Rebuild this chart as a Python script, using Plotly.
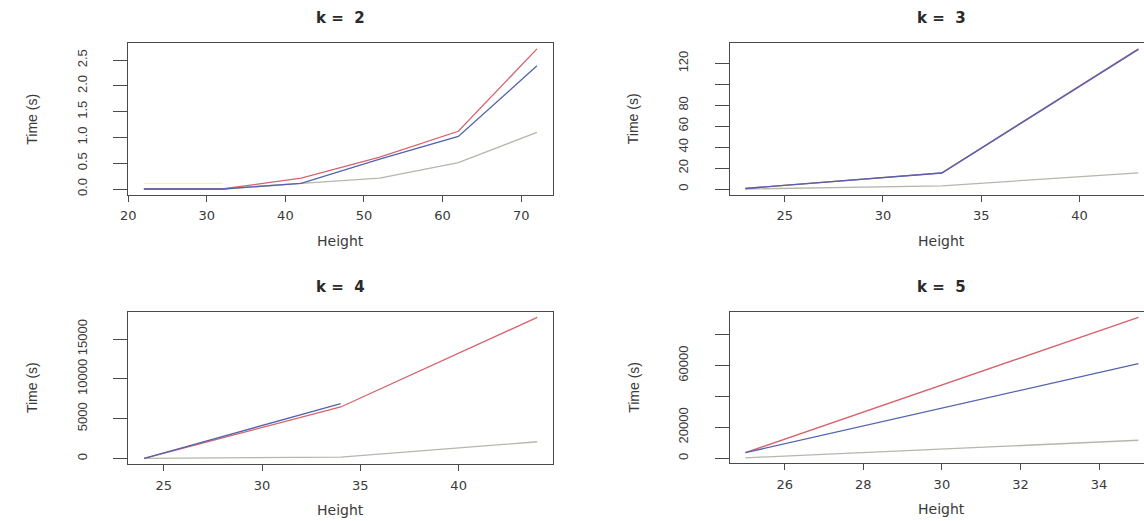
import plotly.graph_objects as go

W, H = 1144, 521

# ---------------- data ----------------
k2_height = [22, 32, 42, 52, 62, 72]
k2_red = [0, 0, 0.21, 0.62, 1.12, 2.72]
k2_blue = [0, 0, 0.11, 0.58, 1.02, 2.39]
k2_grey = [0, 0, 0.11, 0.21, 0.51, 1.10]
k2_yellow_height = [22, 32]
k2_yellow = [0.11, 0.11]

k3_height = [23, 33, 43]
k3_red = [0.5, 15.5, 134]
k3_blue = [0.5, 15.3, 133.5]
k3_grey = [0, 3, 15.5]

k4_height = [24, 34, 44]
k4_red = [0, 6470, 17735]
k4_blue_height = [24, 34]
k4_blue = [0, 6900]
k4_grey = [0, 170, 2100]

k5_height = [25, 35]
k5_red = [3600, 91200]
k5_blue = [3600, 61250]
k5_grey = [300, 11640]

titles = ["k = \u00a02", "k = \u00a03", "k = \u00a04", "k = \u00a05"]

x_ticks_k2 = [20, 30, 40, 50, 60, 70]
x_ticks_k3 = [25, 30, 35, 40]
x_ticks_k4 = [25, 30, 35, 40]
x_ticks_k5 = [26, 28, 30, 32, 34]

y_ticks_k2 = [0, 0.5, 1.0, 1.5, 2.0, 2.5]
y_text_k2 = ["0.0", "0.5", "1.0", "1.5", "2.0", "2.5"]
y_ticks_k3 = [0, 20, 40, 60, 80, 100, 120]
y_text_k3 = ["0", "20", "40", "60", "80", "", "120"]
y_ticks_k4 = [0, 5000, 10000, 15000]
y_text_k4 = ["0", "5000", "10000", "15000"]
y_ticks_k5 = [0, 20000, 40000, 60000, 80000]
y_text_k5 = ["0", "20000", "", "60000", ""]

RED = "#d6626c"
BLUE = "#5363ad"
GREY = "#b3b8ad"
YELLOW = "#f6f0c4"
AXC = "#4a4a4a"
TXT = "#3a3a3a"


def r_range(*series):
    vals = [v for s in series for v in s]
    lo, hi = min(vals), max(vals)
    d = (hi - lo) * 0.04
    return [lo - d, hi + d]


# pixel boxes (left, top, right, bottom) of plotting regions
BOX_W = 427.5
boxes = [
    (121.0, 43.3, 121.0 + BOX_W, 195.0),
    (726.7, 43.3, 726.7 + BOX_W, 195.0),
    (121.3, 312.3, 121.3 + BOX_W, 465.0),
    (726.7, 312.3, 726.7 + BOX_W, 464.3),
]

panels = [
    dict(series=[(k2_yellow_height, k2_yellow, YELLOW), (k2_height, k2_grey, GREY),
                 (k2_height, k2_red, RED), (k2_height, k2_blue, BLUE)],
         xall=[k2_height], yall=[k2_red, k2_blue, k2_grey],
         xt=x_ticks_k2, yt=y_ticks_k2, ytt=y_text_k2),
    dict(series=[(k3_height, k3_grey, GREY), (k3_height, k3_red, RED),
                 (k3_height, k3_blue, BLUE)],
         xall=[k3_height], yall=[k3_red, k3_blue, k3_grey],
         xt=x_ticks_k3, yt=y_ticks_k3, ytt=y_text_k3),
    dict(series=[(k4_height, k4_grey, GREY), (k4_height, k4_red, RED),
                 (k4_blue_height, k4_blue, BLUE)],
         xall=[k4_height], yall=[k4_red, k4_blue, k4_grey],
         xt=x_ticks_k4, yt=y_ticks_k4, ytt=y_text_k4),
    dict(series=[(k5_height, k5_grey, GREY), (k5_height, k5_red, RED),
                 (k5_height, k5_blue, BLUE)],
         xall=[k5_height], yall=[k5_red, k5_blue, k5_grey],
         xt=x_ticks_k5, yt=y_ticks_k5, ytt=y_text_k5),
]

fig = go.Figure()
layout = dict(
    width=W, height=H, margin=dict(l=0, r=0, t=0, b=0),
    paper_bgcolor="white", plot_bgcolor="white", showlegend=False,
)
annotations = []

for i, (p, box) in enumerate(zip(panels, boxes)):
    n = i + 1
    xa = "x" if n == 1 else f"x{n}"
    ya = "y" if n == 1 else f"y{n}"
    left, top, right, bottom = box
    xr = r_range(*p["xall"])
    yr = r_range(*p["yall"])
    # clip at the page edge (right column is cut off in the reference)
    vis_right = min(right, W)
    frac = (vis_right - left) / (right - left)
    xr_vis = [xr[0], xr[0] + frac * (xr[1] - xr[0])]
    clipped = vis_right < right

    for xs, ys, col in p["series"]:
        fig.add_trace(go.Scatter(x=xs, y=ys, mode="lines",
                                 line=dict(color=col, width=1.3),
                                 xaxis=xa, yaxis=ya, hoverinfo="skip"))

    xkey = "xaxis" if n == 1 else f"xaxis{n}"
    ykey = "yaxis" if n == 1 else f"yaxis{n}"
    layout[xkey] = dict(
        domain=[left / W, vis_right / W], anchor=ya, range=xr_vis,
        showgrid=False, zeroline=False, showline=True, mirror=True,
        linecolor=AXC, linewidth=1, ticks="outside", ticklen=6,
        tickcolor=AXC, tickwidth=1, tickvals=p["xt"],
        ticktext=[str(v) for v in p["xt"]], ticklabelstandoff=3,
        tickfont=dict(family="DejaVu Sans", size=13, color=TXT),
    )
    layout[ykey] = dict(
        domain=[1 - bottom / H, 1 - top / H], anchor=xa, range=yr,
        showgrid=False, zeroline=False, showline=True,
        mirror=(not clipped), linecolor=AXC, linewidth=1,
        ticks="outside", ticklen=14, tickcolor=AXC, tickwidth=1,
        tickvals=p["yt"], ticktext=p["ytt"], tickangle=-90,
        ticklabelstandoff=21,
        tickfont=dict(family="Liberation Sans Narrow, Liberation Sans", size=13, color=TXT),
    )
    cx = (left + right) / 2
    cy = (top + bottom) / 2
    annotations.append(dict(text=f"<b>{titles[i]}</b>", x=cx / W, y=1 - (top - 25) / H,
                            xref="paper", yref="paper", showarrow=False,
                            xanchor="center", yanchor="middle",
                            font=dict(family="DejaVu Sans", size=15, color="#2a2a2a")))
    annotations.append(dict(text="Height", x=cx / W, y=1 - (bottom + 46) / H,
                            xref="paper", yref="paper", showarrow=False,
                            xanchor="center", yanchor="middle",
                            font=dict(family="DejaVu Sans", size=14, color=TXT)))
    annotations.append(dict(text="Time (s)", x=(left - 97) / W, y=1 - cy / H,
                            xref="paper", yref="paper", showarrow=False,
                            xanchor="center", yanchor="middle", textangle=-90,
                            font=dict(family="Liberation Sans Narrow, Liberation Sans", size=14, color=TXT)))

layout["annotations"] = annotations
fig.update_layout(**layout)
fig.write_html("out.html")
